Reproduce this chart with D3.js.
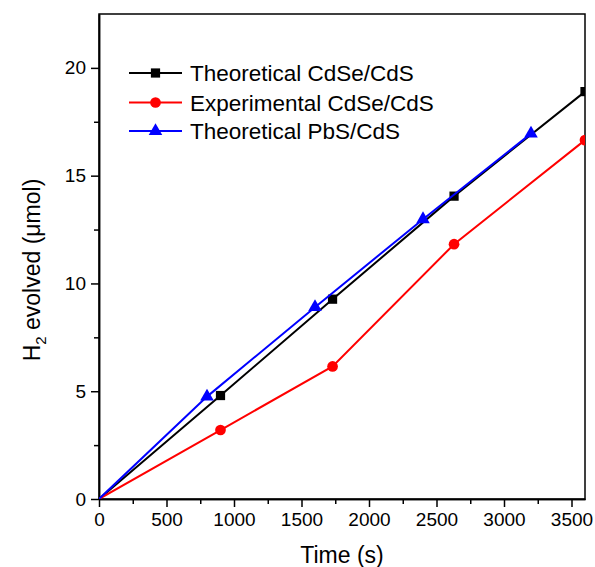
<!DOCTYPE html>
<html>
<head>
<meta charset="utf-8">
<script src="https://cdn.jsdelivr.net/npm/d3@7"></script>
<style>
  html, body { margin: 0; padding: 0; background: #ffffff; }
  svg { display: block; font-family: Arial, "Liberation Sans", sans-serif; }
</style>
</head>
<body>
<svg id="chart" width="595" height="567"></svg>
<script>
// ---- Data ----
const theoCdSeTime = [0, 900, 1730, 2630, 3600];
const theoCdSeH2   = [0, 4.8, 9.27, 14.05, 18.9];
const expCdSeTime  = [0, 900, 1730, 2630, 3600];
const expCdSeH2    = [0, 3.2, 6.15, 11.82, 16.65];
const theoPbSTime  = [0, 800, 1600, 2400, 3200];
const theoPbSH2    = [0, 4.75, 8.9, 12.98, 16.95];
const seriesNames  = ["Theoretical CdSe/CdS", "Experimental CdSe/CdS", "Theoretical PbS/CdS"];
const xTicks = [0, 500, 1000, 1500, 2000, 2500, 3000, 3500];
const yTicks = [0, 5, 10, 15, 20];

// ---- Layout ----
const svg = d3.select("#chart");
const pLeft = 99, pRight = 585, pTop = 14, pBottom = 499;
const x = d3.scaleLinear().domain([0, 3600]).range([pLeft, pRight]);
const y = d3.scaleLinear().domain([0, 22.5]).range([pBottom, pTop]);

svg.append("rect").attr("width", 595).attr("height", 567).attr("fill", "#ffffff");

svg.append("defs").append("clipPath").attr("id", "plotclip")
  .append("rect").attr("x", pLeft).attr("y", pTop)
  .attr("width", pRight - pLeft).attr("height", pBottom - pTop);

// ---- Axes ----
const xMinor = d3.range(250, 3600, 500);
const yMinor = d3.range(2.5, 22.5, 5);

const xAxis = d3.axisBottom(x).tickValues(xTicks).tickFormat(d3.format("d")).tickSize(8).tickSizeOuter(0).tickPadding(6);
const xAxisMinor = d3.axisBottom(x).tickValues(xMinor).tickFormat("").tickSize(5).tickSizeOuter(0);
const yAxis = d3.axisLeft(y).tickValues(yTicks).tickFormat(d3.format("d")).tickSize(8).tickSizeOuter(0).tickPadding(5);
const yAxisMinor = d3.axisLeft(y).tickValues(yMinor).tickFormat("").tickSize(5).tickSizeOuter(0);

function styleAxis(g) {
  g.selectAll("path").attr("stroke", "#000").attr("stroke-width", 1.5);
  g.selectAll("line").attr("stroke", "#000").attr("stroke-width", 1.5);
  g.selectAll("text").attr("fill", "#000").style("font-size", "19px")
    .style("font-family", 'Arial, "Liberation Sans", sans-serif');
}
svg.append("g").attr("transform", `translate(0,${pBottom})`).call(xAxisMinor).call(styleAxis);
svg.append("g").attr("transform", `translate(0,${pBottom})`).call(xAxis).call(styleAxis);
svg.append("g").attr("transform", `translate(${pLeft},0)`).call(yAxisMinor).call(styleAxis);
svg.append("g").attr("transform", `translate(${pLeft},0)`).call(yAxis).call(styleAxis);

// frame (top & right)
svg.append("rect").attr("x", pLeft).attr("y", pTop)
  .attr("width", pRight - pLeft).attr("height", pBottom - pTop)
  .attr("fill", "none").attr("stroke", "#000").attr("stroke-width", 1.5);

// ---- Axis titles ----
svg.append("text").attr("x", (pLeft + pRight) / 2).attr("y", 563)
  .attr("text-anchor", "middle").style("font-size", "23px").attr("fill", "#000")
  .text("Time (s)");

const yl = svg.append("text")
  .attr("transform", `translate(40,270) rotate(-90)`)
  .attr("text-anchor", "middle").style("font-size", "23px").attr("fill", "#000");
yl.append("tspan").text("H");
yl.append("tspan").attr("dy", 6).style("font-size", "15px").text("2");
yl.append("tspan").attr("dy", -6).text(" evolved (\u03bcmol)");

// ---- Series ----
const series = [
  { name: seriesNames[0], t: theoCdSeTime, v: theoCdSeH2, color: "#000000", shape: d3.symbolSquare, size: 85 },
  { name: seriesNames[1], t: expCdSeTime,  v: expCdSeH2,  color: "#ff0000", shape: d3.symbolCircle, size: 90 },
  { name: seriesNames[2], t: theoPbSTime,  v: theoPbSH2,  color: "#0000ff", shape: d3.symbolTriangle, size: 80 }
];

const plot = svg.append("g").attr("clip-path", "url(#plotclip)");
const line = d3.line().x(d => x(d[0])).y(d => y(d[1]));

series.forEach(s => {
  const pts = s.t.map((t, i) => [t, s.v[i]]);
  plot.append("path").datum(pts).attr("d", line)
    .attr("fill", "none").attr("stroke", s.color).attr("stroke-width", 2);
  plot.selectAll(null).data(pts.slice(1)).enter().append("path")
    .attr("d", d3.symbol().type(s.shape).size(s.size))
    .attr("transform", d => `translate(${x(d[0])},${y(d[1])})`)
    .attr("fill", s.color);
});

// ---- Legend ----
const legY = [73, 102.5, 131];
series.forEach((s, i) => {
  const g = svg.append("g");
  g.append("line").attr("x1", 129).attr("x2", 182).attr("y1", legY[i]).attr("y2", legY[i])
    .attr("stroke", s.color).attr("stroke-width", 2);
  g.append("path").attr("d", d3.symbol().type(s.shape).size(s.size))
    .attr("transform", `translate(155.5,${legY[i]})`).attr("fill", s.color);
  g.append("text").attr("x", 190).attr("y", legY[i]).attr("dy", "0.36em")
    .style("font-size", "22.5px").attr("fill", "#000").text(s.name);
});
</script>
</body>
</html>
